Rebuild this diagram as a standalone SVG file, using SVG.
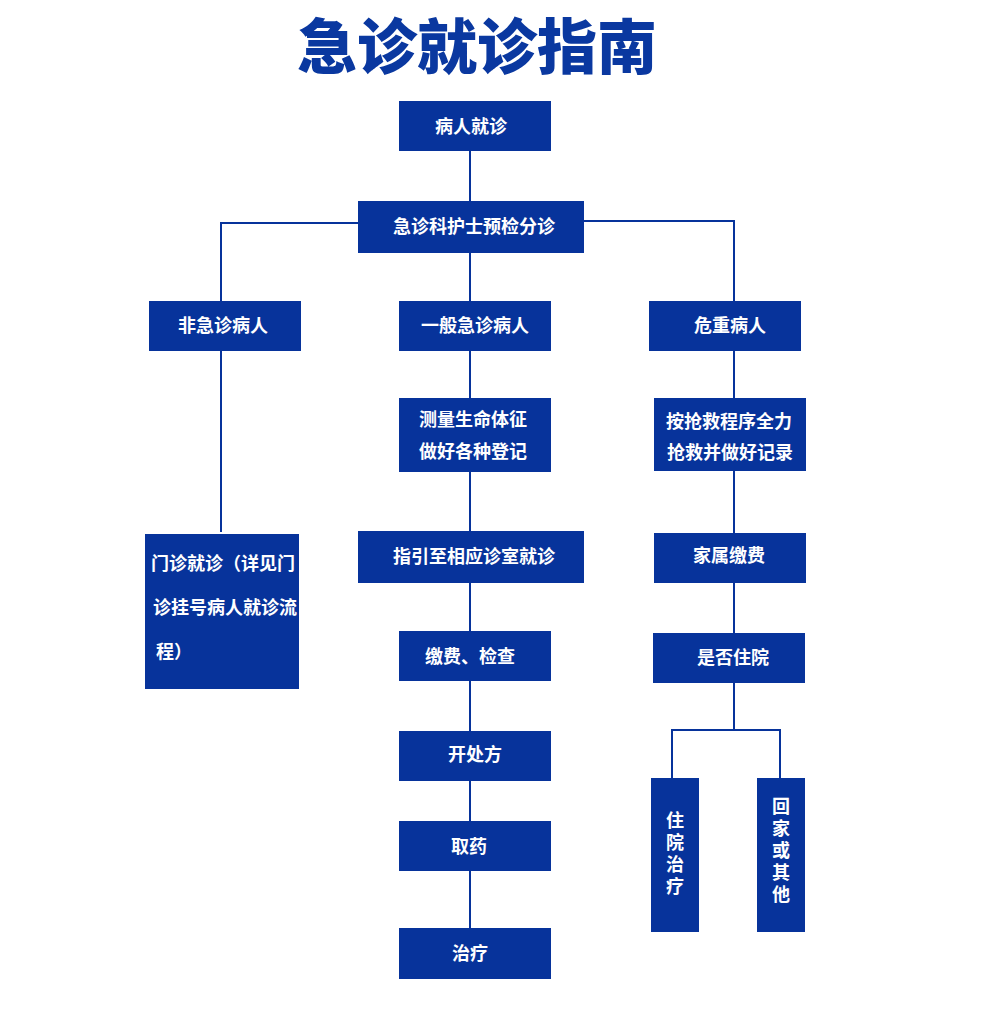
<svg xmlns="http://www.w3.org/2000/svg" width="1000" height="1025" viewBox="0 0 1000 1025">
<style>
.box{fill:#07339b}
.t{font-family:"Noto Sans CJK SC","Noto Sans",sans-serif;font-size:18px;font-weight:bold;fill:#ffffff;text-anchor:middle;dominant-baseline:central}
.tl{font-family:"Noto Sans CJK SC","Noto Sans",sans-serif;font-size:18px;font-weight:bold;fill:#ffffff;dominant-baseline:central}
.tv{font-family:"Noto Sans CJK SC","Noto Sans",sans-serif;font-size:18px;font-weight:bold;fill:#ffffff;text-anchor:middle;writing-mode:vertical-rl;letter-spacing:4px}
.title{font-family:"Noto Sans CJK SC","Noto Sans",sans-serif;font-size:60px;font-weight:900;fill:#0a38a0;text-anchor:middle}
.c{stroke:#07339b;stroke-width:2;fill:none}
</style>
<rect width="1000" height="1025" fill="#ffffff"/>
<text class="title" x="477" y="69">急诊就诊指南</text>
<g id="connectors">
<path class="c" d="M470 151V201M470 253V301M470 351V398M470 472V531M470 583V631M470 681V731M470 781V821M470 871V928"/>
<path class="c" d="M358 223H221V301M221 351V532"/>
<path class="c" d="M584 221H734V301M734 351V398M734 471V533M734 583V633M734 683V730M672 778V730H780V778"/>
</g>
<g id="n1"><rect class="box" x="399" y="101" width="152" height="50"/><text class="t" x="471" y="125">病人就诊</text></g>
<g id="n2"><rect class="box" x="358" y="201" width="226" height="52"/><text class="t" x="474" y="225">急诊科护士预检分诊</text></g>
<g id="n3"><rect class="box" x="149" y="301" width="152" height="50"/><text class="t" x="223" y="324">非急诊病人</text></g>
<g id="n4"><rect class="box" x="399" y="301" width="152" height="50"/><text class="t" x="475" y="324">一般急诊病人</text></g>
<g id="n5"><rect class="box" x="649" y="301" width="152" height="50"/><text class="t" x="730" y="324">危重病人</text></g>
<g id="n6"><rect class="box" x="399" y="398" width="152" height="74"/><text class="t" x="473" y="418">测量生命体征</text><text class="t" x="473" y="450">做好各种登记</text></g>
<g id="n7"><rect class="box" x="654" y="398" width="152" height="73"/><text class="t" x="729" y="420">按抢救程序全力</text><text class="t" x="730" y="451">抢救并做好记录</text></g>
<g id="n8"><rect class="box" x="145" y="534" width="154" height="155"/><text class="tl" x="151" y="562">门诊就诊（详见门</text><text class="tl" x="153" y="606">诊挂号病人就诊流</text><text class="tl" x="156" y="650">程）</text></g>
<g id="n9"><rect class="box" x="358" y="531" width="226" height="52"/><text class="t" x="474" y="555">指引至相应诊室就诊</text></g>
<g id="n10"><rect class="box" x="654" y="533" width="152" height="50"/><text class="t" x="729" y="554">家属缴费</text></g>
<g id="n11"><rect class="box" x="399" y="631" width="152" height="50"/><text class="t" x="470" y="655">缴费、检查</text></g>
<g id="n12"><rect class="box" x="653" y="633" width="152" height="50"/><text class="t" x="733" y="656">是否住院</text></g>
<g id="n13"><rect class="box" x="399" y="731" width="152" height="50"/><text class="t" x="475" y="753">开处方</text></g>
<g id="n14"><rect class="box" x="399" y="821" width="152" height="50"/><text class="t" x="469" y="845">取药</text></g>
<g id="n15"><rect class="box" x="399" y="928" width="152" height="51"/><text class="t" x="470" y="952">治疗</text></g>
<g id="n16"><rect class="box" x="651" y="778" width="48" height="154"/><text class="tv" x="675" y="855">住院治疗</text></g>
<g id="n17"><rect class="box" x="757" y="778" width="48" height="154"/><text class="tv" x="781" y="852">回家或其他</text></g>
</svg>
